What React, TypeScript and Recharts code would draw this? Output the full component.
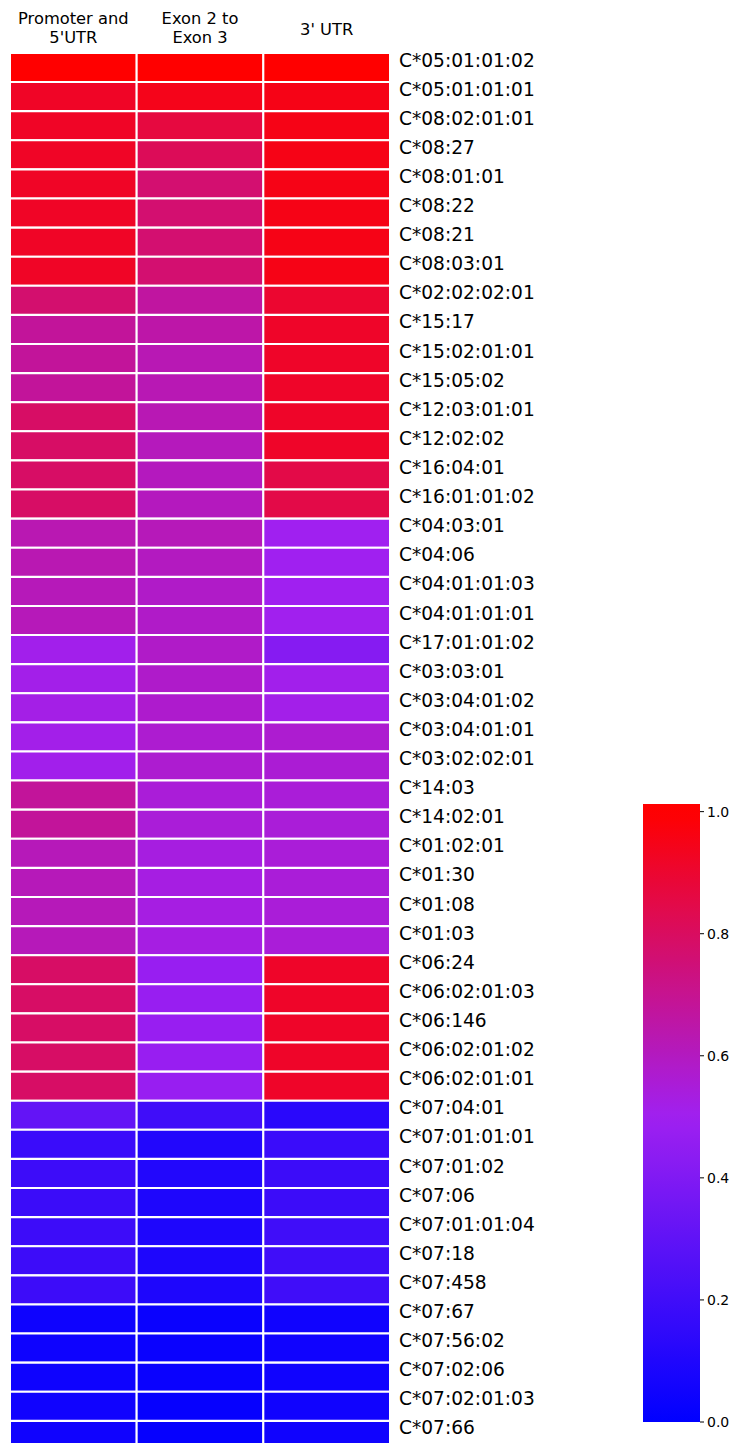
import React from "react";
import { BarChart, Bar, XAxis, YAxis, Cell } from "recharts";

// allele rows, top to bottom
const alleles = [
  "C*05:01:01:02", "C*05:01:01:01", "C*08:02:01:01", "C*08:27", "C*08:01:01", "C*08:22",
  "C*08:21", "C*08:03:01", "C*02:02:02:01", "C*15:17", "C*15:02:01:01", "C*15:05:02",
  "C*12:03:01:01", "C*12:02:02", "C*16:04:01", "C*16:01:01:02", "C*04:03:01", "C*04:06",
  "C*04:01:01:03", "C*04:01:01:01", "C*17:01:01:02", "C*03:03:01", "C*03:04:01:02", "C*03:04:01:01",
  "C*03:02:02:01", "C*14:03", "C*14:02:01", "C*01:02:01", "C*01:30", "C*01:08",
  "C*01:03", "C*06:24", "C*06:02:01:03", "C*06:146", "C*06:02:01:02", "C*06:02:01:01",
  "C*07:04:01", "C*07:01:01:01", "C*07:01:02", "C*07:06", "C*07:01:01:04", "C*07:18",
  "C*07:458", "C*07:67", "C*07:56:02", "C*07:02:06", "C*07:02:01:03", "C*07:66",
];

const columns = [["Promoter and", "5'UTR"], ["Exon 2 to", "Exon 3"], ["3' UTR"]];

const promoter = [
  1.01, 0.92, 0.92, 0.92, 0.92, 0.92, 0.92, 0.92, 0.77, 0.68, 0.68, 0.68,
  0.79, 0.79, 0.79, 0.79, 0.63, 0.63, 0.615, 0.615, 0.51, 0.515, 0.52, 0.515,
  0.51, 0.68, 0.68, 0.615, 0.615, 0.615, 0.615, 0.79, 0.79, 0.79, 0.79, 0.79,
  0.31, 0.18, 0.19, 0.185, 0.19, 0.19, 0.19, 0.045, 0.045, 0.045, 0.05, 0.05,
];
const exon = [
  1.01, 0.945, 0.867, 0.817, 0.767, 0.767, 0.767, 0.767, 0.667, 0.65, 0.625, 0.625,
  0.625, 0.608, 0.604, 0.604, 0.615, 0.6, 0.583, 0.583, 0.583, 0.58, 0.572, 0.567,
  0.567, 0.55, 0.55, 0.533, 0.53, 0.53, 0.53, 0.475, 0.475, 0.475, 0.475, 0.475,
  0.2, 0.106, 0.106, 0.094, 0.094, 0.094, 0.094, 0.031, 0.031, 0.031, 0.019, 0.02,
];
const utr = [
  1.01, 0.955, 0.955, 0.955, 0.955, 0.955, 0.955, 0.955, 0.9, 0.915, 0.915, 0.915,
  0.915, 0.915, 0.85, 0.85, 0.5, 0.5, 0.5, 0.505, 0.419, 0.51, 0.515, 0.567,
  0.558, 0.55, 0.55, 0.55, 0.55, 0.55, 0.55, 0.915, 0.915, 0.915, 0.915, 0.915,
  0.13, 0.18, 0.1875, 0.1875, 0.2, 0.2, 0.2, 0.05, 0.05, 0.05, 0.05, 0.05,
];

const barTicks = [0, 0.2, 0.4, 0.6, 0.8, 1.0];
const vmax = 1.0125;

const FONT = "DejaVu Sans";

// blue -> purple -> red
function cmap(v: number) {
  const x = Math.max(0, Math.min(1, v));
  let r, g, b;
  if (x <= 0.5) {
    const t = x / 0.5;
    r = 160 * t;
    g = 32 * t;
    b = 255 - 15 * t;
  } else {
    const t = (x - 0.5) / 0.5;
    r = 160 + 95 * t;
    g = 32 * (1 - t);
    b = 240 * (1 - t);
  }
  return `rgb(${Math.round(r)},${Math.round(g)},${Math.round(b)})`;
}

const rows = alleles.map((allele, i) => ({
  allele,
  promoter: promoter[i],
  exon: exon[i],
  utr: utr[i],
}));

const seriesKeys = ["promoter", "exon", "utr"] as const;

function HeaderTick(props: any) {
  const { x, y, payload } = props;
  const lines = columns[Math.floor(payload.value)] || [];
  const base = lines.length === 1 ? y - 18 : y - 29;
  return (
    <text x={x} y={base} textAnchor="middle" fontSize={16.3} fontFamily={FONT} fill="#000">
      {lines.map((l, i) => (
        <tspan key={i} x={x} dy={i === 0 ? 0 : 18.7}>
          {l}
        </tspan>
      ))}
    </text>
  );
}

function AlleleTick(props: any) {
  const { x, y, payload } = props;
  return (
    <text x={x + 9} y={y - 1} textAnchor="start" fontSize={18.6} fontFamily={FONT} fill="#000">
      {payload.value}
    </text>
  );
}

function ColorBar() {
  const stops = [];
  for (let i = 0; i <= 40; i++) {
    const d = (vmax * i) / 40;
    stops.push(<stop key={i} offset={`${(i / 40) * 100}%`} stopColor={cmap(d)} />);
  }
  return (
    <BarChart
      width={100}
      height={640}
      data={[{ name: "cb", v: vmax }]}
      margin={{ top: 10, right: 0, left: 0, bottom: 12 }}
      barCategoryGap={0}
    >
      <defs>
        <linearGradient id="cbGrad" x1="0" y1="1" x2="0" y2="0">
          {stops}
        </linearGradient>
      </defs>
      <XAxis dataKey="name" hide />
      <YAxis
        orientation="right"
        type="number"
        domain={[0, vmax]}
        ticks={barTicks}
        tickFormatter={(v: number) => v.toFixed(1)}
        width={43}
        axisLine={false}
        tickSize={4}
        tickMargin={3}
        tickLine={{ stroke: "#000" }}
        tick={{ fontSize: 14, fontFamily: FONT, fill: "#000" }}
      />
      <Bar dataKey="v" fill="url(#cbGrad)" isAnimationActive={false} />
    </BarChart>
  );
}

export default function App() {
  return (
    <div style={{ position: "absolute", left: 0, top: 0, width: 733, height: 1443, overflow: "hidden", background: "#fff" }}>
      <BarChart
        width={733}
        height={1450}
        data={rows}
        layout="vertical"
        margin={{ top: 0, right: 143, left: 10, bottom: 0 }}
        barCategoryGap={0}
        barGap={0}
      >
        <XAxis
          type="number"
          orientation="top"
          domain={[0, 3]}
          ticks={[0.5, 1.5, 2.5]}
          height={53}
          axisLine={false}
          tickLine={false}
          tickSize={0}
          tickMargin={0}
          tick={<HeaderTick />}
          interval={0}
        />
        <YAxis
          type="category"
          dataKey="allele"
          orientation="right"
          width={200}
          axisLine={false}
          tickLine={false}
          tickSize={0}
          tickMargin={0}
          tick={<AlleleTick />}
          interval={0}
        />
        {seriesKeys.map((k) => (
          <Bar
            key={k}
            dataKey={() => 1}
            name={k}
            stackId="cells"
            stroke="#fff"
            strokeWidth={2}
            isAnimationActive={false}
          >
            {rows.map((r, i) => (
              <Cell key={i} fill={cmap(r[k])} />
            ))}
          </Bar>
        ))}
      </BarChart>
      <div style={{ position: "absolute", left: 643, top: 794 }}>
        <ColorBar />
      </div>
    </div>
  );
}
